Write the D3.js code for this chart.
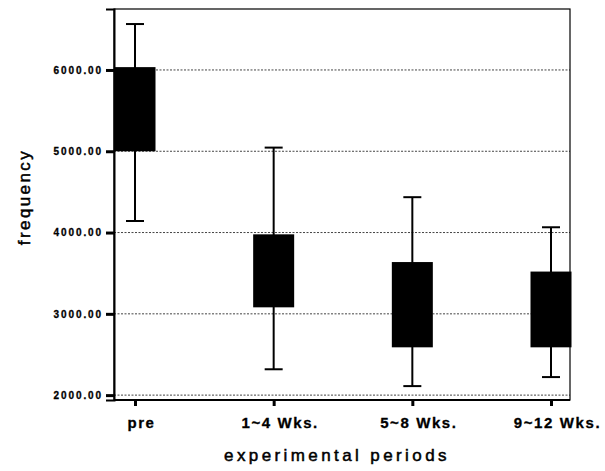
<!DOCTYPE html>
<html lang="en">
<head>
    <meta charset="UTF-8">
    <title>Frequency by experimental period</title>
    <script src="https://d3js.org/d3.v7.min.js"></script>
    <style>
        body { margin: 0; background: #fff; }
        text { font-family: "Liberation Sans", Arial, sans-serif; fill: #000; }
    </style>
</head>
<body>
    <svg id="chart"></svg>

    <script>
        // Categories and box plot statistics
        const periods = ["pre", "1~4 Wks.", "5~8 Wks.", "9~12 Wks."];
        const whiskerHigh = [6565, 5045, 4435, 4065];
        const boxTop      = [6035, 3978, 3637, 3520];
        const boxBottom   = [5000, 3080, 2588, 2588];
        const whiskerLow  = [4142, 2318, 2111, 2222];
        const yTicks = [2000, 3000, 4000, 5000, 6000];

        const width = 605;
        const height = 471;
        const plot = {left: 114, right: 570, top: 9, bottom: 400};

        const svg = d3.select("#chart")
            .attr("width", width)
            .attr("height", height);

        // Scales
        const x = d3.scalePoint()
            .domain(periods)
            .range([135, 551]);

        const y = d3.scaleLinear()
            .domain([1940, 6750])
            .range([plot.bottom, plot.top]);

        // Dotted grid lines
        svg.append("g")
            .selectAll("line")
            .data(yTicks)
            .join("line")
            .attr("x1", plot.left)
            .attr("x2", plot.right)
            .attr("y1", d => y(d))
            .attr("y2", d => y(d))
            .attr("stroke", "#444")
            .attr("stroke-width", 1)
            .attr("stroke-dasharray", "2,1.5");

        // Frame
        svg.append("rect")
            .attr("x", plot.left)
            .attr("y", plot.top)
            .attr("width", plot.right - plot.left)
            .attr("height", plot.bottom - plot.top)
            .attr("fill", "none")
            .attr("stroke", "#000")
            .attr("stroke-width", 1.2);

        // Y axis
        const yAxis = svg.append("g")
            .attr("transform", `translate(${plot.left},0)`)
            .call(d3.axisLeft(y).tickValues(yTicks).tickSize(8).tickPadding(3)
                .tickFormat(d3.format(".2f")));
        yAxis.select(".domain").attr("stroke-width", 2);
        yAxis.selectAll(".tick line").attr("stroke-width", 3);
        yAxis.selectAll(".tick text")
            .style("font-size", "10px")
            .style("font-weight", "bold")
            .style("letter-spacing", "1.9px")
            .attr("stroke", "#000")
            .attr("stroke-width", 0.3);

        // X axis
        const xAxis = svg.append("g")
            .attr("transform", `translate(0,${plot.bottom})`)
            .call(d3.axisBottom(x).tickSize(6).tickPadding(11).tickSizeOuter(0));
        xAxis.select(".domain").attr("stroke-width", 2)
            .attr("d", `M${plot.left},0H${plot.right}`);
        xAxis.selectAll(".tick line").attr("stroke-width", 3);
        xAxis.selectAll(".tick text")
            .attr("dx", 6)
            .style("font-size", "15px")
            .style("font-weight", "bold")
            .style("letter-spacing", "1.6px")
            .attr("stroke", "#000")
            .attr("stroke-width", 0.3);

        // Box plots
        const boxWidth = 41;
        const capWidth = 18;
        const boxes = svg.append("g")
            .selectAll("g")
            .data(periods.map((p, i) => ({
                period: p,
                hi: whiskerHigh[i], q3: boxTop[i], q1: boxBottom[i], lo: whiskerLow[i]
            })))
            .join("g")
            .attr("transform", d => `translate(${x(d.period)},0)`);

        boxes.append("line")
            .attr("y1", d => y(d.hi))
            .attr("y2", d => y(d.lo))
            .attr("stroke", "#000")
            .attr("stroke-width", 2);

        boxes.selectAll(".cap")
            .data(d => [d.hi, d.lo])
            .join("line")
            .attr("class", "cap")
            .attr("x1", -capWidth / 2)
            .attr("x2", capWidth / 2)
            .attr("y1", v => y(v))
            .attr("y2", v => y(v))
            .attr("stroke", "#000")
            .attr("stroke-width", 2);

        boxes.append("rect")
            .attr("x", d => Math.max(-boxWidth / 2, plot.left - x(d.period)))
            .attr("width", d => boxWidth / 2 + Math.min(boxWidth / 2, x(d.period) - plot.left))
            .attr("y", d => y(d.q3))
            .attr("height", d => y(d.q1) - y(d.q3))
            .attr("fill", "#000");

        // Axis titles
        svg.append("text")
            .attr("x", 337)
            .attr("y", 461)
            .attr("text-anchor", "middle")
            .attr("stroke", "#000")
            .attr("stroke-width", 0.5)
            .style("font-size", "17px")
            .style("letter-spacing", "3.4px")
            .text("experimental periods");

        svg.append("text")
            .attr("transform", "translate(30,197) rotate(-90)")
            .attr("text-anchor", "middle")
            .attr("stroke", "#000")
            .attr("stroke-width", 0.5)
            .style("font-size", "17px")
            .style("letter-spacing", "2.4px")
            .text("frequency");
    </script>
</body>
</html>
